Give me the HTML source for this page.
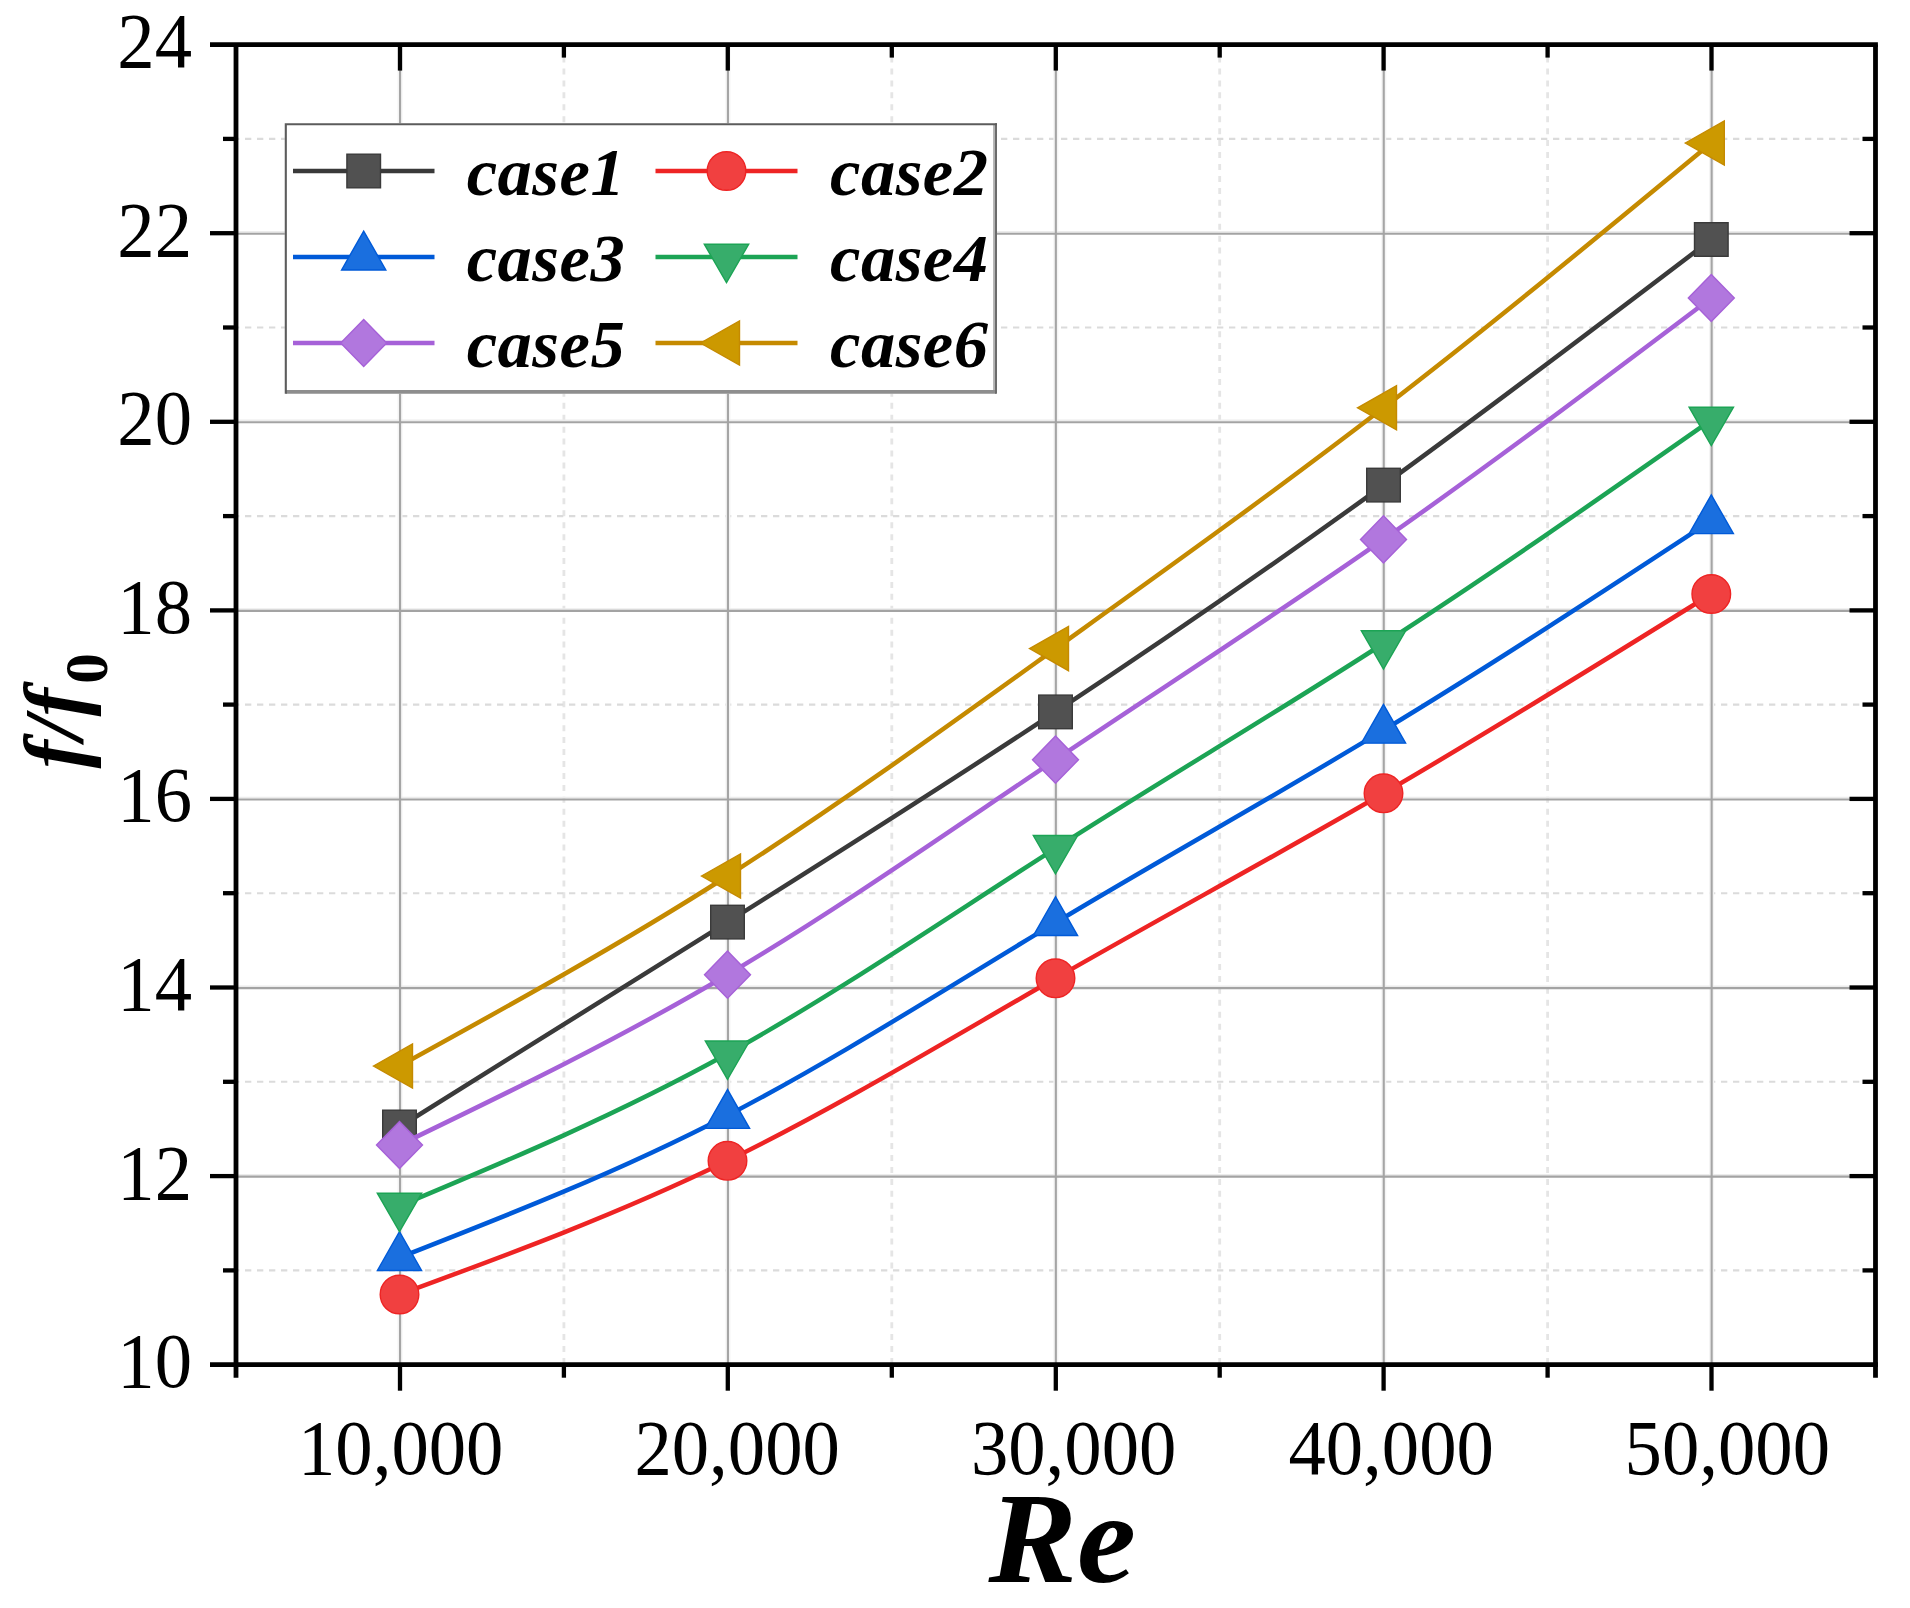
<!DOCTYPE html>
<html lang="en"><head><meta charset="utf-8">
<style>html,body{margin:0;padding:0;background:#fff}body{width:1910px;height:1608px;overflow:hidden}svg{display:block}text{font-family:"Liberation Serif",serif;fill:#000}.tk{font-size:77.5px}.lg{font-size:68.5px;font-weight:bold;font-style:italic;letter-spacing:0.5px}</style></head><body>
<svg width="1910" height="1608" viewBox="0 0 1910 1608">
<rect width="1910" height="1608" fill="#fff"/>
<g fill="none">
<line x1="563.9" y1="44.6" x2="563.9" y2="1364.7" stroke="#e5e5e5" stroke-width="2.8" stroke-dasharray="6 5.94"/>
<line x1="891.8" y1="44.6" x2="891.8" y2="1364.7" stroke="#e5e5e5" stroke-width="2.8" stroke-dasharray="6 5.94"/>
<line x1="1219.7" y1="44.6" x2="1219.7" y2="1364.7" stroke="#e5e5e5" stroke-width="2.8" stroke-dasharray="6 5.94"/>
<line x1="1547.6" y1="44.6" x2="1547.6" y2="1364.7" stroke="#e5e5e5" stroke-width="2.8" stroke-dasharray="6 5.94"/>
<line x1="236.0" y1="1270.4" x2="1875.5" y2="1270.4" stroke="#dbdbdb" stroke-width="2.1" stroke-dasharray="6.3 5.7" stroke-dashoffset="-9"/>
<line x1="236.0" y1="1081.8" x2="1875.5" y2="1081.8" stroke="#dbdbdb" stroke-width="2.1" stroke-dasharray="6.3 5.7" stroke-dashoffset="-9"/>
<line x1="236.0" y1="893.2" x2="1875.5" y2="893.2" stroke="#dbdbdb" stroke-width="2.1" stroke-dasharray="6.3 5.7" stroke-dashoffset="-9"/>
<line x1="236.0" y1="704.6" x2="1875.5" y2="704.6" stroke="#dbdbdb" stroke-width="2.1" stroke-dasharray="6.3 5.7" stroke-dashoffset="-9"/>
<line x1="236.0" y1="516.1" x2="1875.5" y2="516.1" stroke="#dbdbdb" stroke-width="2.1" stroke-dasharray="6.3 5.7" stroke-dashoffset="-9"/>
<line x1="236.0" y1="327.5" x2="1875.5" y2="327.5" stroke="#dbdbdb" stroke-width="2.1" stroke-dasharray="6.3 5.7" stroke-dashoffset="-9"/>
<line x1="236.0" y1="138.9" x2="1875.5" y2="138.9" stroke="#dbdbdb" stroke-width="2.1" stroke-dasharray="6.3 5.7" stroke-dashoffset="-9"/>
<line x1="400.05" y1="44.6" x2="400.05" y2="1364.7" stroke="#f4f4f4" stroke-width="5"/>
<line x1="727.95" y1="44.6" x2="727.95" y2="1364.7" stroke="#f4f4f4" stroke-width="5"/>
<line x1="1055.85" y1="44.6" x2="1055.85" y2="1364.7" stroke="#f4f4f4" stroke-width="5"/>
<line x1="1383.75" y1="44.6" x2="1383.75" y2="1364.7" stroke="#f4f4f4" stroke-width="5"/>
<line x1="1711.65" y1="44.6" x2="1711.65" y2="1364.7" stroke="#f4f4f4" stroke-width="5"/>
<line x1="236.0" y1="1174.81" x2="1875.5" y2="1174.81" stroke="#ececec" stroke-width="1.7"/>
<line x1="236.0" y1="986.23" x2="1875.5" y2="986.23" stroke="#ececec" stroke-width="1.7"/>
<line x1="236.0" y1="797.64" x2="1875.5" y2="797.64" stroke="#ececec" stroke-width="1.7"/>
<line x1="236.0" y1="609.06" x2="1875.5" y2="609.06" stroke="#ececec" stroke-width="1.7"/>
<line x1="236.0" y1="420.47" x2="1875.5" y2="420.47" stroke="#ececec" stroke-width="1.7"/>
<line x1="236.0" y1="231.89" x2="1875.5" y2="231.89" stroke="#ececec" stroke-width="1.7"/>
<line x1="400.05" y1="44.6" x2="400.05" y2="1364.7" stroke="#a5a5a5" stroke-width="2.1"/>
<line x1="727.95" y1="44.6" x2="727.95" y2="1364.7" stroke="#a5a5a5" stroke-width="2.1"/>
<line x1="1055.85" y1="44.6" x2="1055.85" y2="1364.7" stroke="#a5a5a5" stroke-width="2.1"/>
<line x1="1383.75" y1="44.6" x2="1383.75" y2="1364.7" stroke="#a5a5a5" stroke-width="2.1"/>
<line x1="1711.65" y1="44.6" x2="1711.65" y2="1364.7" stroke="#a5a5a5" stroke-width="2.1"/>
<line x1="236.0" y1="1176.66" x2="1875.5" y2="1176.66" stroke="#a3a3a3" stroke-width="2.1"/>
<line x1="236.0" y1="988.08" x2="1875.5" y2="988.08" stroke="#a3a3a3" stroke-width="2.1"/>
<line x1="236.0" y1="799.49" x2="1875.5" y2="799.49" stroke="#a3a3a3" stroke-width="2.1"/>
<line x1="236.0" y1="610.91" x2="1875.5" y2="610.91" stroke="#a3a3a3" stroke-width="2.1"/>
<line x1="236.0" y1="422.32" x2="1875.5" y2="422.32" stroke="#a3a3a3" stroke-width="2.1"/>
<line x1="236.0" y1="233.74" x2="1875.5" y2="233.74" stroke="#a3a3a3" stroke-width="2.1"/>
</g>
<path d="M399.50,1127.00 C508.83,1058.89 618.17,990.78 727.50,922.10 C836.83,853.42 946.17,784.16 1055.50,711.90 C1164.83,639.64 1274.17,564.36 1383.50,485.10 C1492.77,405.89 1602.03,322.69 1711.30,239.50" fill="none" stroke="#3a3a3a" stroke-width="4.5"/>
<rect x="382.70" y="1110.20" width="33.60" height="33.60" fill="#515151" stroke="#3a3a3a" stroke-width="1.4" stroke-linejoin="miter"/>
<rect x="710.70" y="905.30" width="33.60" height="33.60" fill="#515151" stroke="#3a3a3a" stroke-width="1.4" stroke-linejoin="miter"/>
<rect x="1038.70" y="695.10" width="33.60" height="33.60" fill="#515151" stroke="#3a3a3a" stroke-width="1.4" stroke-linejoin="miter"/>
<rect x="1366.70" y="468.30" width="33.60" height="33.60" fill="#515151" stroke="#3a3a3a" stroke-width="1.4" stroke-linejoin="miter"/>
<rect x="1694.50" y="222.70" width="33.60" height="33.60" fill="#515151" stroke="#3a3a3a" stroke-width="1.4" stroke-linejoin="miter"/>
<path d="M399.50,1294.50 C508.83,1254.32 618.17,1214.13 727.50,1160.80 C836.83,1107.47 946.17,1040.98 1055.50,978.30 C1164.83,915.62 1274.17,856.74 1383.50,793.30 C1492.77,729.90 1602.03,661.95 1711.30,594.00" fill="none" stroke="#ee2424" stroke-width="4.5"/>
<circle cx="399.50" cy="1294.50" r="19.30" fill="#F14040" stroke="#ee2424" stroke-width="1.4" stroke-linejoin="miter"/>
<circle cx="727.50" cy="1160.80" r="19.30" fill="#F14040" stroke="#ee2424" stroke-width="1.4" stroke-linejoin="miter"/>
<circle cx="1055.50" cy="978.30" r="19.30" fill="#F14040" stroke="#ee2424" stroke-width="1.4" stroke-linejoin="miter"/>
<circle cx="1383.50" cy="793.30" r="19.30" fill="#F14040" stroke="#ee2424" stroke-width="1.4" stroke-linejoin="miter"/>
<circle cx="1711.30" cy="594.00" r="19.30" fill="#F14040" stroke="#ee2424" stroke-width="1.4" stroke-linejoin="miter"/>
<path d="M399.50,1257.50 C508.83,1214.77 618.17,1172.04 727.50,1115.40 C836.83,1058.76 946.17,988.19 1055.50,922.60 C1164.83,857.01 1274.17,796.38 1383.50,730.20 C1492.77,664.06 1602.03,592.38 1711.30,520.70" fill="none" stroke="#005ad8" stroke-width="4.5"/>
<polygon points="399.50,1231.63 377.40,1270.43 421.60,1270.43" fill="#1A6FDF" stroke="#005ad8" stroke-width="1.4" stroke-linejoin="miter"/>
<polygon points="727.50,1089.53 705.40,1128.33 749.60,1128.33" fill="#1A6FDF" stroke="#005ad8" stroke-width="1.4" stroke-linejoin="miter"/>
<polygon points="1055.50,896.73 1033.40,935.53 1077.60,935.53" fill="#1A6FDF" stroke="#005ad8" stroke-width="1.4" stroke-linejoin="miter"/>
<polygon points="1383.50,704.33 1361.40,743.13 1405.60,743.13" fill="#1A6FDF" stroke="#005ad8" stroke-width="1.4" stroke-linejoin="miter"/>
<polygon points="1711.30,494.83 1689.20,533.63 1733.40,533.63" fill="#1A6FDF" stroke="#005ad8" stroke-width="1.4" stroke-linejoin="miter"/>
<path d="M399.50,1206.00 C508.83,1160.15 618.17,1114.31 727.50,1053.80 C836.83,993.29 946.17,918.12 1055.50,848.30 C1164.83,778.48 1274.17,714.02 1383.50,643.50 C1492.77,573.03 1602.03,496.51 1711.30,420.00" fill="none" stroke="#1ca455" stroke-width="4.5"/>
<polygon points="399.50,1231.60 377.30,1193.20 421.70,1193.20" fill="#37AD6B" stroke="#1ca455" stroke-width="1.4" stroke-linejoin="miter"/>
<polygon points="727.50,1079.40 705.30,1041.00 749.70,1041.00" fill="#37AD6B" stroke="#1ca455" stroke-width="1.4" stroke-linejoin="miter"/>
<polygon points="1055.50,873.90 1033.30,835.50 1077.70,835.50" fill="#37AD6B" stroke="#1ca455" stroke-width="1.4" stroke-linejoin="miter"/>
<polygon points="1383.50,669.10 1361.30,630.70 1405.70,630.70" fill="#37AD6B" stroke="#1ca455" stroke-width="1.4" stroke-linejoin="miter"/>
<polygon points="1711.30,445.60 1689.10,407.20 1733.50,407.20" fill="#37AD6B" stroke="#1ca455" stroke-width="1.4" stroke-linejoin="miter"/>
<path d="M399.50,1145.00 C508.83,1092.22 618.17,1039.45 727.50,974.70 C836.83,909.95 946.17,833.23 1055.50,759.70 C1164.83,686.17 1274.17,615.84 1383.50,539.40 C1492.77,463.00 1602.03,380.50 1711.30,298.00" fill="none" stroke="#a661d8" stroke-width="4.5"/>
<polygon points="399.50,1121.40 422.50,1145.00 399.50,1168.60 376.50,1145.00" fill="#B177DE" stroke="#a661d8" stroke-width="1.4" stroke-linejoin="miter"/>
<polygon points="727.50,951.10 750.50,974.70 727.50,998.30 704.50,974.70" fill="#B177DE" stroke="#a661d8" stroke-width="1.4" stroke-linejoin="miter"/>
<polygon points="1055.50,736.10 1078.50,759.70 1055.50,783.30 1032.50,759.70" fill="#B177DE" stroke="#a661d8" stroke-width="1.4" stroke-linejoin="miter"/>
<polygon points="1383.50,515.80 1406.50,539.40 1383.50,563.00 1360.50,539.40" fill="#B177DE" stroke="#a661d8" stroke-width="1.4" stroke-linejoin="miter"/>
<polygon points="1711.30,274.40 1734.30,298.00 1711.30,321.60 1688.30,298.00" fill="#B177DE" stroke="#a661d8" stroke-width="1.4" stroke-linejoin="miter"/>
<path d="M399.50,1066.00 C508.83,1005.83 618.17,945.66 727.50,876.00 C836.83,806.34 946.17,727.18 1055.50,648.60 C1164.83,570.02 1274.17,492.00 1383.50,407.80 C1492.77,323.65 1602.03,233.33 1711.30,143.00" fill="none" stroke="#c58a00" stroke-width="4.5"/>
<polygon points="373.50,1066.00 412.50,1043.90 412.50,1088.10" fill="#CC9900" stroke="#c58a00" stroke-width="1.4" stroke-linejoin="miter"/>
<polygon points="701.50,876.00 740.50,853.90 740.50,898.10" fill="#CC9900" stroke="#c58a00" stroke-width="1.4" stroke-linejoin="miter"/>
<polygon points="1029.50,648.60 1068.50,626.50 1068.50,670.70" fill="#CC9900" stroke="#c58a00" stroke-width="1.4" stroke-linejoin="miter"/>
<polygon points="1357.50,407.80 1396.50,385.70 1396.50,429.90" fill="#CC9900" stroke="#c58a00" stroke-width="1.4" stroke-linejoin="miter"/>
<polygon points="1685.30,143.00 1724.30,120.90 1724.30,165.10" fill="#CC9900" stroke="#c58a00" stroke-width="1.4" stroke-linejoin="miter"/>
<g stroke="#000" fill="none" stroke-linecap="butt">
<line x1="210.0" y1="44.6" x2="1877.9" y2="44.6" stroke-width="4.8"/>
<line x1="210.0" y1="1364.7" x2="1877.9" y2="1364.7" stroke-width="4.8"/>
<line x1="236.0" y1="44.6" x2="236.0" y2="1377.7" stroke-width="4.8"/>
<line x1="1875.5" y1="44.6" x2="1875.5" y2="1377.7" stroke-width="4.8"/>
<line x1="400.0" y1="1364.7" x2="400.0" y2="1390.7" stroke-width="4.3"/>
<line x1="400.0" y1="44.6" x2="400.0" y2="70.6" stroke-width="4.3"/>
<line x1="727.8" y1="1364.7" x2="727.8" y2="1390.7" stroke-width="4.3"/>
<line x1="727.8" y1="44.6" x2="727.8" y2="70.6" stroke-width="4.3"/>
<line x1="1055.8" y1="1364.7" x2="1055.8" y2="1390.7" stroke-width="4.3"/>
<line x1="1055.8" y1="44.6" x2="1055.8" y2="70.6" stroke-width="4.3"/>
<line x1="1383.6" y1="1364.7" x2="1383.6" y2="1390.7" stroke-width="4.3"/>
<line x1="1383.6" y1="44.6" x2="1383.6" y2="70.6" stroke-width="4.3"/>
<line x1="1711.5" y1="1364.7" x2="1711.5" y2="1390.7" stroke-width="4.3"/>
<line x1="1711.5" y1="44.6" x2="1711.5" y2="70.6" stroke-width="4.3"/>
<line x1="563.9" y1="1364.7" x2="563.9" y2="1377.7" stroke-width="4.3"/>
<line x1="563.9" y1="44.6" x2="563.9" y2="57.6" stroke-width="4.3"/>
<line x1="891.8" y1="1364.7" x2="891.8" y2="1377.7" stroke-width="4.3"/>
<line x1="891.8" y1="44.6" x2="891.8" y2="57.6" stroke-width="4.3"/>
<line x1="1219.7" y1="1364.7" x2="1219.7" y2="1377.7" stroke-width="4.3"/>
<line x1="1219.7" y1="44.6" x2="1219.7" y2="57.6" stroke-width="4.3"/>
<line x1="1547.6" y1="1364.7" x2="1547.6" y2="1377.7" stroke-width="4.3"/>
<line x1="1547.6" y1="44.6" x2="1547.6" y2="57.6" stroke-width="4.3"/>
<line x1="210.0" y1="1176.1" x2="236.0" y2="1176.1" stroke-width="4.3"/>
<line x1="1849.5" y1="1176.1" x2="1875.5" y2="1176.1" stroke-width="4.3"/>
<line x1="210.0" y1="987.5" x2="236.0" y2="987.5" stroke-width="4.3"/>
<line x1="1849.5" y1="987.5" x2="1875.5" y2="987.5" stroke-width="4.3"/>
<line x1="210.0" y1="798.9" x2="236.0" y2="798.9" stroke-width="4.3"/>
<line x1="1849.5" y1="798.9" x2="1875.5" y2="798.9" stroke-width="4.3"/>
<line x1="210.0" y1="610.4" x2="236.0" y2="610.4" stroke-width="4.3"/>
<line x1="1849.5" y1="610.4" x2="1875.5" y2="610.4" stroke-width="4.3"/>
<line x1="210.0" y1="421.8" x2="236.0" y2="421.8" stroke-width="4.3"/>
<line x1="1849.5" y1="421.8" x2="1875.5" y2="421.8" stroke-width="4.3"/>
<line x1="210.0" y1="233.2" x2="236.0" y2="233.2" stroke-width="4.3"/>
<line x1="1849.5" y1="233.2" x2="1875.5" y2="233.2" stroke-width="4.3"/>
<line x1="223.0" y1="1270.4" x2="236.0" y2="1270.4" stroke-width="4.3"/>
<line x1="1862.5" y1="1270.4" x2="1875.5" y2="1270.4" stroke-width="4.3"/>
<line x1="223.0" y1="1081.8" x2="236.0" y2="1081.8" stroke-width="4.3"/>
<line x1="1862.5" y1="1081.8" x2="1875.5" y2="1081.8" stroke-width="4.3"/>
<line x1="223.0" y1="893.2" x2="236.0" y2="893.2" stroke-width="4.3"/>
<line x1="1862.5" y1="893.2" x2="1875.5" y2="893.2" stroke-width="4.3"/>
<line x1="223.0" y1="704.6" x2="236.0" y2="704.6" stroke-width="4.3"/>
<line x1="1862.5" y1="704.6" x2="1875.5" y2="704.6" stroke-width="4.3"/>
<line x1="223.0" y1="516.1" x2="236.0" y2="516.1" stroke-width="4.3"/>
<line x1="1862.5" y1="516.1" x2="1875.5" y2="516.1" stroke-width="4.3"/>
<line x1="223.0" y1="327.5" x2="236.0" y2="327.5" stroke-width="4.3"/>
<line x1="1862.5" y1="327.5" x2="1875.5" y2="327.5" stroke-width="4.3"/>
<line x1="223.0" y1="138.9" x2="236.0" y2="138.9" stroke-width="4.3"/>
<line x1="1862.5" y1="138.9" x2="1875.5" y2="138.9" stroke-width="4.3"/>
</g>
<text class="tk" transform="translate(192,1387.1) scale(0.964,1)" text-anchor="end">10</text>
<text class="tk" transform="translate(192,1198.5) scale(0.964,1)" text-anchor="end">12</text>
<text class="tk" transform="translate(192,1009.9) scale(0.964,1)" text-anchor="end">14</text>
<text class="tk" transform="translate(192,821.3) scale(0.964,1)" text-anchor="end">16</text>
<text class="tk" transform="translate(192,632.8) scale(0.964,1)" text-anchor="end">18</text>
<text class="tk" transform="translate(192,444.2) scale(0.964,1)" text-anchor="end">20</text>
<text class="tk" transform="translate(192,255.6) scale(0.964,1)" text-anchor="end">22</text>
<text class="tk" transform="translate(192,67.0) scale(0.964,1)" text-anchor="end">24</text>
<text class="tk" transform="translate(298.0,1473.7) scale(0.964,1)">10,000</text>
<text class="tk" transform="translate(634.4,1473.7) scale(0.964,1)">20,000</text>
<text class="tk" transform="translate(970.9,1473.7) scale(0.964,1)">30,000</text>
<text class="tk" transform="translate(1288.4,1473.7) scale(0.964,1)">40,000</text>
<text class="tk" transform="translate(1624.6,1473.7) scale(0.964,1)">50,000</text>
<text transform="translate(1062.2,1582) scale(1.031,1)" text-anchor="middle" style="font-size:128.7px;font-weight:bold;font-style:italic">Re</text>
<text transform="translate(82.9,768.4) rotate(-90)" style="font-size:85px;font-weight:bold;font-style:italic">f/f<tspan dx="4.4" dy="23.6" style="font-size:61px;font-style:normal">0</tspan></text>
<rect x="284.8" y="123.2" width="712.2" height="270.5" fill="#fff"/>
<path d="M994.05,124 V392" stroke="#b2b2b2" stroke-width="1.9" fill="none"/>
<path d="M285.8,391.85 H996" stroke="#8e8e8e" stroke-width="3.7" fill="none"/>
<path d="M996,123.2 V393.7" stroke="#6c6c6c" stroke-width="2" fill="none"/>
<path d="M285.8,393.7 V124.3 H997" stroke="#5c5c5c" stroke-width="2.1" fill="none"/>
<line x1="293" y1="171.0" x2="434.5" y2="171.0" stroke="#3a3a3a" stroke-width="4.5"/>
<rect x="346.90" y="154.20" width="33.60" height="33.60" fill="#515151" stroke="#3a3a3a" stroke-width="1.4" stroke-linejoin="miter"/>
<text class="lg" x="466.7" y="195.0">case1</text>
<line x1="655.5" y1="171.0" x2="797.5" y2="171.0" stroke="#ee2424" stroke-width="4.5"/>
<circle cx="726.50" cy="171.00" r="19.30" fill="#F14040" stroke="#ee2424" stroke-width="1.4" stroke-linejoin="miter"/>
<text class="lg" x="830" y="195.0">case2</text>
<line x1="293" y1="257.0" x2="434.5" y2="257.0" stroke="#005ad8" stroke-width="4.5"/>
<polygon points="363.70,231.13 341.60,269.93 385.80,269.93" fill="#1A6FDF" stroke="#005ad8" stroke-width="1.4" stroke-linejoin="miter"/>
<text class="lg" x="466.7" y="281.0">case3</text>
<line x1="655.5" y1="257.0" x2="797.5" y2="257.0" stroke="#1ca455" stroke-width="4.5"/>
<polygon points="726.50,282.60 704.30,244.20 748.70,244.20" fill="#37AD6B" stroke="#1ca455" stroke-width="1.4" stroke-linejoin="miter"/>
<text class="lg" x="830" y="281.0">case4</text>
<line x1="293" y1="343.0" x2="434.5" y2="343.0" stroke="#a661d8" stroke-width="4.5"/>
<polygon points="363.70,319.40 386.70,343.00 363.70,366.60 340.70,343.00" fill="#B177DE" stroke="#a661d8" stroke-width="1.4" stroke-linejoin="miter"/>
<text class="lg" x="466.7" y="367.0">case5</text>
<line x1="655.5" y1="343.0" x2="797.5" y2="343.0" stroke="#c58a00" stroke-width="4.5"/>
<polygon points="700.50,343.00 739.50,320.90 739.50,365.10" fill="#CC9900" stroke="#c58a00" stroke-width="1.4" stroke-linejoin="miter"/>
<text class="lg" x="830" y="367.0">case6</text>
</svg></body></html>
